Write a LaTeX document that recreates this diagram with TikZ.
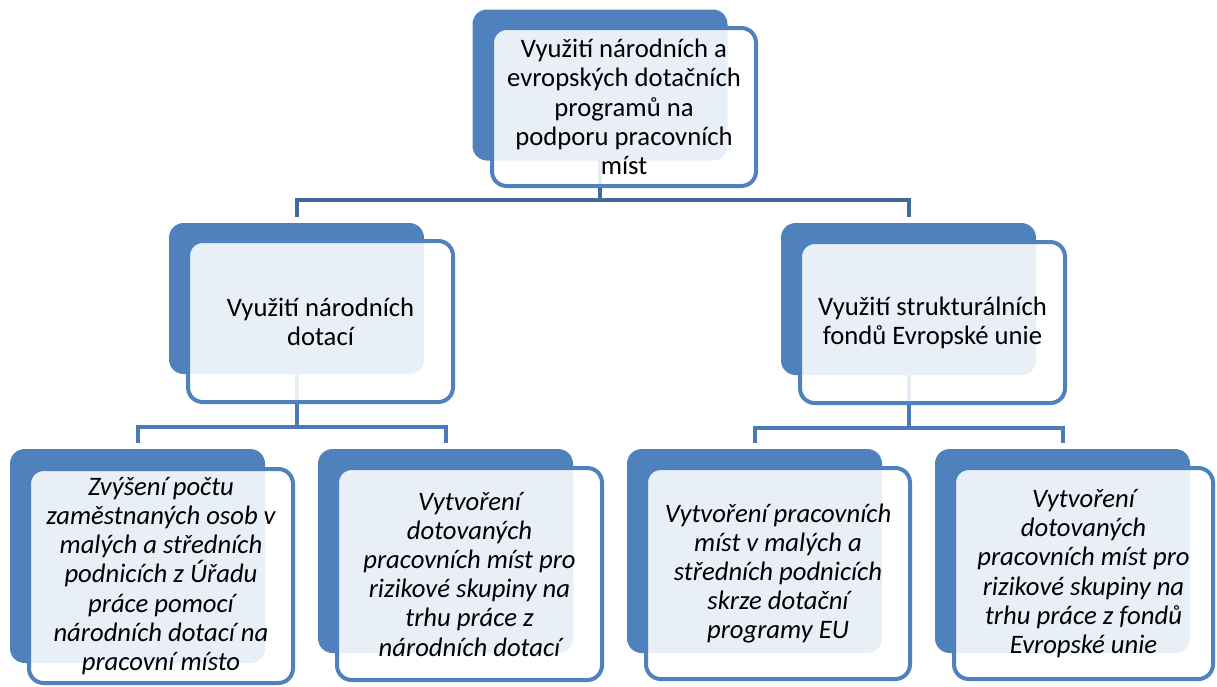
\documentclass[tikz,border=0pt]{standalone}
\usepackage{fontspec}
\setmainfont{Carlito}
\definecolor{accent}{HTML}{4F81BD}
\definecolor{connA}{HTML}{41699C}
\definecolor{connB}{HTML}{4A7BB6}
\pgfdeclarelayer{bg}
\pgfsetlayers{bg,main}
\begin{document}
\begin{tikzpicture}[x=0.75pt,y=-0.75pt,
  backbox/.style={rectangle, rounded corners=11pt, fill=accent, draw=none, inner sep=0pt, outer sep=0pt},
  frontbox/.style={rectangle, rounded corners=11pt, draw=accent, line width=3pt, fill=white, fill opacity=0.88, draw opacity=1, text opacity=1, align=center, inner sep=0pt, outer sep=0pt, font=\fontsize{20}{21.9}\selectfont},
  lowbox/.style={frontbox, font=\fontsize{20}{21.9}\selectfont\itshape},
  connone/.style={draw=connA, line width=3pt, shorten >=4.5pt},
  conntwo/.style={draw=connB, line width=3pt, shorten >=4.5pt}]
\useasboundingbox (0,0) rectangle (1217,686);
% back boxes
\node[backbox, minimum width=255*0.75pt, minimum height=151*0.75pt] (tb) at (600,85) {};
\node[backbox, minimum width=255*0.75pt, minimum height=151*0.75pt] (lb) at (296.5,298.5) {};
\node[backbox, minimum width=255*0.75pt, minimum height=152*0.75pt] (rb) at (908.5,299) {};
\node[backbox, minimum width=255*0.75pt, minimum height=214*0.75pt] (b1b) at (137.5,556) {};
\node[backbox, minimum width=255*0.75pt, minimum height=204*0.75pt] (b2b) at (445.5,551) {};
\node[backbox, minimum width=255*0.75pt, minimum height=204*0.75pt] (b3b) at (754.5,551) {};
\node[backbox, minimum width=255*0.75pt, minimum height=204*0.75pt] (b4b) at (1062.5,551) {};
% front boxes
\node[frontbox, minimum width=264*0.75pt, minimum height=158*0.75pt] (tf) at (624,107) {Využití národních a\\evropských dotačních\\programů na\\podporu pracovních\\míst};
\node[frontbox, minimum width=265*0.75pt, minimum height=161*0.75pt] (lf) at (320.5,321.5) {Využití národních\\dotací};
\node[frontbox, minimum width=265*0.75pt, minimum height=161*0.75pt] (rf) at (932.5,322.5) {Využití strukturálních\\fondů Evropské unie};
\node[lowbox, minimum width=264*0.75pt, minimum height=214*0.75pt] (b1f) at (161,576) {Zvýšení počtu\\zaměstnaných osob v\\malých a středních\\podnicích z Úřadu\\práce pomocí\\národních dotací na\\pracovní místo};
\node[lowbox, minimum width=265*0.75pt, minimum height=212*0.75pt] (b2f) at (469.5,574) {Vytvoření\\dotovaných\\pracovních míst pro\\rizikové skupiny na\\trhu práce z\\národních dotací};
\node[lowbox, minimum width=264*0.75pt, minimum height=211*0.75pt] (b3f) at (778,573.5) {Vytvoření pracovních\\míst v malých a\\středních podnicích\\skrze dotační\\programy EU};
\node[lowbox, minimum width=259*0.75pt, minimum height=211*0.75pt] (b4f) at (1083.5,573.5) {Vytvoření\\dotovaných\\pracovních míst pro\\rizikové skupiny na\\trhu práce z fondů\\Evropské unie};
% connectors
\begin{pgfonlayer}{bg}
\draw[connone] (tb.center) -- (tb.center |- 0,200) -| (lb.north);
\draw[connone] (tb.center) -- (tb.center |- 0,200) -| (rb.north);
\draw[conntwo] (lb.center) -- (lb.center |- 0,427) -| (b1b.north);
\draw[conntwo] (lb.center) -- (lb.center |- 0,427) -| (b2b.north);
\draw[conntwo] (rb.center) -- (rb.center |- 0,428) -| (b3b.north);
\draw[conntwo] (rb.center) -- (rb.center |- 0,428) -| (b4b.north);
\end{pgfonlayer}
\end{tikzpicture}
\end{document}
